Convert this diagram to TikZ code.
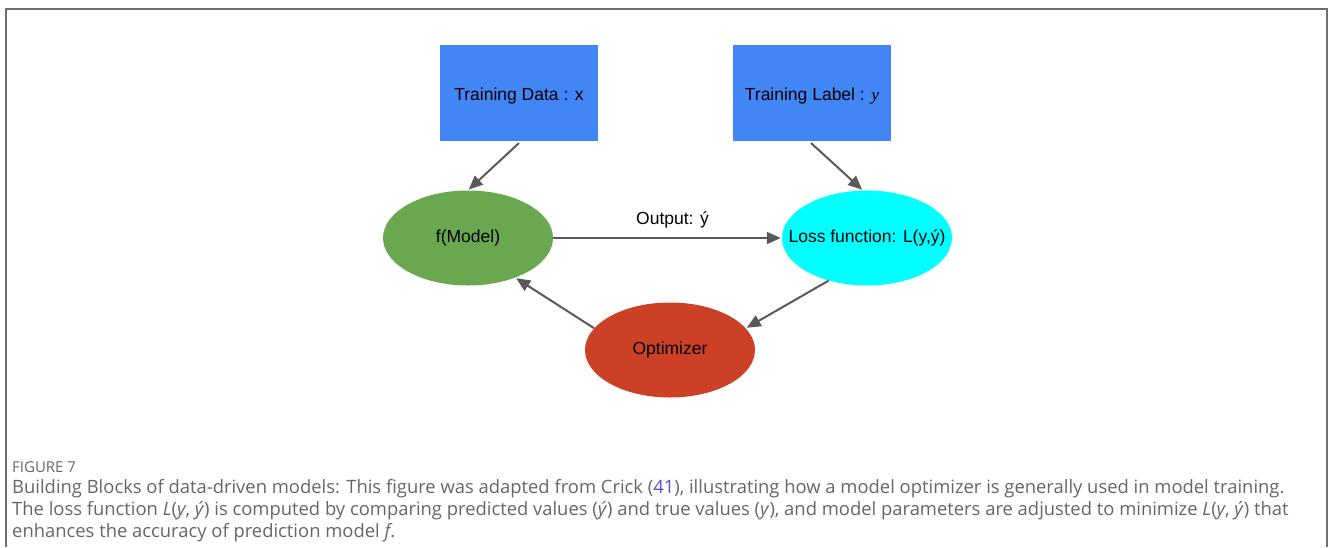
\documentclass[tikz,border=0pt]{standalone}
\usepackage{fontspec}
\setmainfont{Liberation Sans}
\newfontfamily\capfont{Open Sans}
\newfontfamily\serifit{Liberation Serif}
\usetikzlibrary{arrows.meta,shapes.geometric}
\definecolor{boxblue}{HTML}{4285F4}
\definecolor{modelgreen}{HTML}{6AA84F}
\definecolor{losscyan}{HTML}{00FFFF}
\definecolor{optred}{HTML}{CC4125}
\definecolor{arrowgray}{HTML}{595959}
\definecolor{capgray}{HTML}{666666}
\definecolor{refblue}{HTML}{5B4FD8}
\definecolor{framegray}{HTML}{707070}
\tikzset{
  datablock/.style={rectangle, fill=boxblue, minimum width=158pt, minimum height=96pt, inner sep=0pt, text height=14pt, text depth=0pt, font=\fontsize{17.5}{20}\selectfont},
  ovalnode/.style={ellipse, minimum width=170pt, minimum height=95pt, inner sep=0pt, font=\fontsize{17.5}{20}\selectfont},
  flow/.style={draw=arrowgray, line width=2pt, -{Triangle[length=14pt,width=12pt]}, shorten >=1pt},
  captext/.style={font=\capfont\fontsize{18.4}{22}\selectfont, text=capgray, anchor=north west, align=left, inner sep=0pt}
}
\begin{document}
\begin{tikzpicture}[x=1pt,y=-1pt]
\useasboundingbox (0,0) rectangle (1330,547);
\draw[framegray, line width=1.5pt] (6,547) -- (6,9) -- (1327,9) -- (1327,547);
\node[datablock] (data) at (519,93) {Training Data : x};
\node[datablock] (label) at (812,93) {Training Label : {\serifit\itshape y}};
\node[ovalnode, fill=modelgreen] (model) at (468,238) {\makebox[0pt]{f(Model)}};
\node[ovalnode, fill=losscyan] (loss) at (867,238) {\makebox[0pt]{Loss function: L(y,ý)}};
\node[ovalnode, fill=optred] (opt) at (670,350) {\makebox[0pt]{Optimizer}};
\coordinate (dA) at (519,143);
\coordinate (lA) at (811,143);
\draw[flow] (dA) -- (model.north);
\draw[flow] (lA) -- (loss.95);
\draw[flow] (model.east) -- node[above=6pt, xshift=5pt, font=\fontsize{17.5}{20}\selectfont] (outlbl) {Output: ý} (loss.west);
\draw[flow] (loss.-132) -- (opt.16);
\draw[flow] (opt.164) -- (model.-40);
\node[font=\capfont\fontsize{15}{17}\selectfont, text=capgray, anchor=base west, inner sep=0pt] (fig) at (12,472) {FIGURE 7};
\node[captext] (cap) at (12,479) {Building Blocks of data-driven models: This figure was adapted from Crick ({\color{refblue}41}), illustrating how a model optimizer is generally used in model training.\\
The loss function \textit{L}(\textit{y}, \textit{ý}) is computed by comparing predicted values (\textit{ý}) and true values (\textit{y}), and model parameters are adjusted to minimize \textit{L}(\textit{y}, \textit{ý}) that\\
enhances the accuracy of prediction model \textit{f}.};
\end{tikzpicture}
\end{document}
